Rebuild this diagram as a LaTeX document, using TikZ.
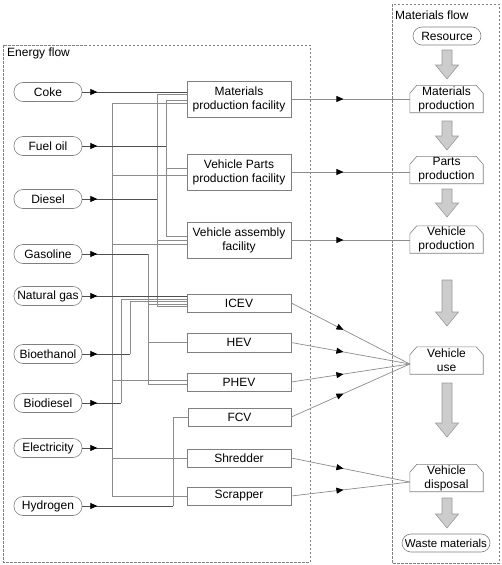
\documentclass[tikz,border=0pt]{standalone}
\usepackage{fontspec}
\setmainfont{Liberation Sans}
\usetikzlibrary{arrows.meta,decorations.markings,calc}
\definecolor{boxgray}{HTML}{7F7F7F}
\definecolor{wiregray}{HTML}{8C8C8C}
\definecolor{feedgray}{HTML}{505050}
\definecolor{dashgray}{HTML}{808080}
\definecolor{arrowfill}{HTML}{CCCCCC}
\definecolor{arrowdraw}{HTML}{9A9A9A}
\newcommand{\blkarrow}[2]{%
  \draw[block] (442,#1) -- (452,#1) -- (452,{#2-14}) -- (458.5,{#2-14}) -- (447,#2)
    -- (435.5,{#2-14}) -- (442,{#2-14}) -- cycle;}
\begin{document}
\begin{tikzpicture}[x=1pt,y=-1pt,
  txt/.style={font=\fontsize{12}{14}\selectfont},
  src/.style={txt,draw=boxgray,line width=0.6pt,rounded corners=9pt,minimum width=68pt,minimum height=19pt,inner sep=0pt},
  fac/.style={txt,draw=boxgray,line width=0.6pt,minimum width=104pt,inner sep=0pt,align=center},
  mat/.style={txt,minimum width=73pt,minimum height=27pt,inner sep=0pt,align=center},
  wire/.style={draw=wiregray,line width=0.6pt},
  feed/.style={draw=feedgray,line width=0.7pt,postaction=decorate,
    decoration={markings,mark=at position 15pt with {\arrow{Triangle[length=7pt,width=6pt,color=black]}}}},
  flow/.style={draw=wiregray,line width=0.7pt,postaction=decorate,
    decoration={markings,mark=at position 0.44 with {\arrow{Triangle[length=7pt,width=6pt,color=black]}}}},
  block/.style={fill=arrowfill,draw=arrowdraw,line width=0.6pt},
  region/.style={draw=dashgray,dash pattern=on 2.5pt off 1.5pt,line width=0.5pt},
  chamf/.style={draw=boxgray,line width=0.6pt}
]
\useasboundingbox (0,0) rectangle (501,565);

% regions
\draw[region] (3,45) rectangle (310,562);
\draw[region] (392,4) rectangle (499,563);
\node[txt,anchor=west,inner sep=0pt] (lblE) at (7,53) {Energy flow};
\node[txt,anchor=west,inner sep=0pt] (lblM) at (395,15) {Materials flow};

% sources
\node[src] (coke)   at (48,92)  {Coke};
\node[src] (fuel)   at (48,146) {Fuel oil};
\node[src] (diesel) at (48,199) {Diesel};
\node[src] (gas)    at (48,254) {Gasoline};
\node[src] (ng)     at (48,296) {Natural gas};
\node[src] (beth)   at (48,354) {Bioethanol};
\node[src] (bdie)   at (48,403) {Biodiesel};
\node[src] (elec)   at (48,448) {Electricity};
\node[src] (hyd)    at (48,506) {Hydrogen};

% facilities
\node[fac,minimum height=36pt] (matfac) at (239,99)  {Materials\\production facility};
\node[fac,minimum height=36pt] (parfac) at (239,172) {Vehicle Parts\\production facility};
\node[fac,minimum height=36pt] (asmfac) at (239,240) {Vehicle assembly\\facility};
\node[fac,minimum height=18pt] (icev)   at (239,303)   {ICEV};
\node[fac,minimum height=19pt] (hev)    at (239,342.5) {HEV};
\node[fac,minimum height=18pt] (phev)   at (239,382)   {PHEV};
\node[fac,minimum height=18pt,minimum width=103pt] (fcv) at (239.5,417) {FCV};
\node[fac,minimum height=18pt] (shred)  at (239,458)   {Shredder};
\node[fac,minimum height=18pt] (scrap)  at (239,496)   {Scrapper};

% materials flow
\node[src,minimum height=18pt] (res) at (447,36) {Resource};
\node[mat] (mp) at (446.5,99)  {Materials\\production};
\node[mat] (pp) at (446.5,170) {Parts\\production};
\node[mat] (vp) at (446.5,239.5) {Vehicle\\production};
\node[mat] (vu) at (446.5,360.5) {Vehicle\\use};
\node[mat] (vd) at (446.5,478) {Vehicle\\disposal};
\node[src,minimum width=88pt,minimum height=18pt,font=\fontsize{11.5}{14}\selectfont] (waste) at (446,543) {Waste materials};
\foreach \n in {mp,pp,vp,vu,vd}{
  \draw[chamf] (\n.south west) -- (\n.south east) -- ([yshift=-8pt]\n.north east)
    -- ([xshift=-7pt]\n.north east) -- ([xshift=7pt]\n.north west)
    -- ([yshift=-8pt]\n.north west) -- cycle;
}
\blkarrow{50}{79}
\blkarrow{121}{150}
\blkarrow{189}{217}
\blkarrow{280}{326}
\blkarrow{383}{437}
\blkarrow{498}{528}

% bus x positions
\coordinate (bE)  at (112,0);
\coordinate (bBD) at (121,0);
\coordinate (bBE) at (130,0);
\coordinate (bG)  at (148,0);
\coordinate (bD)  at (157,0);
\coordinate (bF)  at (166,0);
\coordinate (bH)  at (173,0);

% electricity bus
\draw[wire] ([yshift=-4pt]matfac.west) -- ([yshift=-4pt]matfac.west -| bE) -- (scrap.west -| bE) -- (scrap.west);
\draw[wire] ([yshift=-3pt]parfac.west) -- ([yshift=-3pt]parfac.west -| bE);
\draw[wire] ([yshift=-4pt]asmfac.west) -- ([yshift=-4pt]asmfac.west -| bE);
\draw[wire] ([yshift=2pt]phev.west) -- ([yshift=2pt]phev.west -| bE);
\draw[wire] (shred.west) -- (shred.west -| bE);
% fuel oil bus
\draw[wire] ([yshift=-1pt]matfac.west) -- ([yshift=-1pt]matfac.west -| bF) -- ([yshift=4pt]asmfac.west -| bF) -- ([yshift=4pt]asmfac.west);
\draw[wire] ([yshift=4pt]parfac.west) -- ([yshift=4pt]parfac.west -| bF);
% diesel bus
\draw[wire] ([yshift=5pt]matfac.west) -- ([yshift=5pt]matfac.west -| bD) -- ([yshift=-3.5pt]icev.west -| bD) -- ([yshift=-3.5pt]icev.west);
\draw[wire] (asmfac.west) -- (asmfac.west -| bD);
% gasoline bus
\draw[wire] (gas.east -| bG) -- ([yshift=-2.5pt]phev.west -| bG) -- ([yshift=-2.5pt]phev.west);
\draw[wire] (hev.west) -- (hev.west -| bG);
\draw[wire] ([yshift=-1pt]icev.west) -- ([yshift=-1pt]icev.west -| bG);
% bioethanol and biodiesel buses
\draw[wire] (beth.east -| bBE) -- ([yshift=1.5pt]icev.west -| bBE) -- ([yshift=1.5pt]icev.west);
\draw[wire] (bdie.east -| bBD) -- ([yshift=4pt]icev.west -| bBD) -- ([yshift=4pt]icev.west);
% hydrogen bus
\draw[wire] (hyd.east -| bH) -- (fcv.west -| bH) -- (fcv.west);

% feeds
\draw[feed] (coke.east) -- (coke.east -| matfac.west);
\draw[feed] (fuel.east) -- (fuel.east -| bF);
\draw[feed] (diesel.east) -- (diesel.east -| bD);
\draw[feed] (gas.east) -- (gas.east -| bG);
\draw[feed] (ng.east) -- (ng.east -| icev.west);
\draw[feed] (beth.east) -- (beth.east -| bBE);
\draw[feed] (bdie.east) -- (bdie.east -| bBD);
\draw[feed] (elec.east) -- (elec.east -| bE);
\draw[feed] (hyd.east) -- (hyd.east -| bH);

% flows to materials side
\draw[flow] (matfac.east) -- (matfac.east -| mp.west);
\draw[flow] (parfac.east) -- (parfac.east -| pp.west);
\draw[flow] (asmfac.east) -- (asmfac.east -| vp.west);
\coordinate (vuin) at ([yshift=-3.5pt]vu.west);
\coordinate (vdin) at ([yshift=-4pt]vd.west);
\foreach \n in {icev,hev,phev,fcv} \draw[flow] (\n.east) -- (vuin);
\foreach \n in {shred,scrap} \draw[flow] (\n.east) -- (vdin);
\end{tikzpicture}
\end{document}
